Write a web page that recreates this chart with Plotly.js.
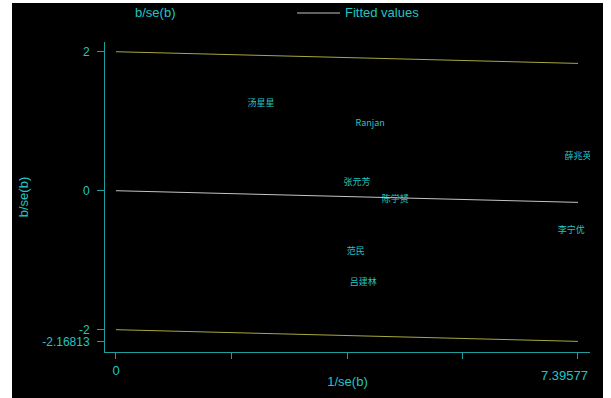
<!DOCTYPE html>
<html>
<head>
<meta charset="utf-8">
<script src="https://cdn.plot.ly/plotly-3.0.1.min.js"></script>
<style>
html,body{margin:0;padding:0;background:#ffffff;width:611px;height:398px;overflow:hidden;}
#chart{position:absolute;left:12px;top:3px;width:591px;height:395px;}
</style>
</head>
<body>
<div id="chart"></div>
<script>
// Study labels and Galbraith coordinates
const studyNames = ["汤星星", "Ranjan", "薛兆英", "张元芳", "陈学赟", "李宁优", "范民", "吕建林"];
const invSE = [2.32, 4.07, 7.39577, 3.86, 4.47, 7.29, 3.84, 3.96];   // 1/se(b)
const zScore = [1.25, 0.97, 0.49, 0.11, -0.13, -0.58, -0.88, -1.33]; // b/se(b)

// Fitted line and +/-2 bounds
const lineX = [0, 7.39577];
const fitted = [0, -0.16813];
const upperBound = [2, 1.83187];
const lowerBound = [-2, -2.16813];

// Tick labels
const xTickVals = [0, 1.849, 3.698, 5.547, 7.39577];
const xTickText = ["0", "", "", "", ""];
const xEndLabel = "7.39577";
const yTickVals = [2, 0, -2, -2.16813];
const yTickText = ["2", "0", "-2", "-2.16813"];

const cyan = "#22c4c4";
const axisCol = "#1e9e9e";
const fontFam = "Liberation Sans, Arial, Noto Sans CJK SC, sans-serif";
const narrowFam = "Liberation Sans Narrow, Arial Narrow, Liberation Sans, sans-serif";

const traces = [
  {x: invSE, y: zScore, text: studyNames, mode: "text", type: "scatter",
   textposition: "middle center", textfont: {color: cyan, size: 9, family: "Noto Sans CJK SC, Liberation Sans, sans-serif"},
   showlegend: false, hoverinfo: "none"},
  {x: lineX, y: upperBound, mode: "lines", type: "scatter", line: {color: "#a8a840", width: 1}, showlegend: false},
  {x: lineX, y: fitted, mode: "lines", type: "scatter", line: {color: "#c4c4c4", width: 1}, showlegend: false},
  {x: lineX, y: lowerBound, mode: "lines", type: "scatter", line: {color: "#a8a840", width: 1}, showlegend: false}
];

const layout = {
  width: 591, height: 395,
  paper_bgcolor: "#000000", plot_bgcolor: "#000000",
  margin: {l: 93, r: 13, t: 39, b: 46},
  showlegend: false,
  font: {family: fontFam, color: cyan, size: 13},
  xaxis: {
    range: [-0.176, 7.588], showgrid: false, zeroline: false,
    showline: true, linecolor: axisCol, linewidth: 1,
    ticks: "outside", ticklen: 6, tickcolor: axisCol, tickwidth: 1,
    tickmode: "array", tickvals: xTickVals, ticktext: xTickText,
    tickfont: {color: cyan, size: 13, family: fontFam},
    title: {text: "1/se(b)", font: {color: cyan, size: 13, family: fontFam}, standoff: 0}
  },
  yaxis: {
    range: [-2.321, 2.140], showgrid: false, zeroline: false,
    showline: true, linecolor: axisCol, linewidth: 1,
    ticks: "outside", ticklen: 7, tickcolor: axisCol, tickwidth: 1,
    ticklabelstandoff: 5,
    tickmode: "array", tickvals: yTickVals, ticktext: yTickText,
    tickfont: {color: cyan, size: 12, family: fontFam},
    title: {text: "b/se(b)", font: {color: cyan, size: 13, family: fontFam}, standoff: 10}
  },
  annotations: [
    {xref: "paper", yref: "paper", x: (155 - 105) / 485, y: (352 - 12) / 310, text: "b/se(b)",
     showarrow: false, xanchor: "center", yanchor: "middle", font: {color: cyan, size: 13, family: fontFam}},
    {xref: "paper", yref: "paper", x: (343 - 105) / 485, y: (352 - 12) / 310, text: "Fitted values",
     showarrow: false, xanchor: "left", yanchor: "middle", font: {color: cyan, size: 13, family: narrowFam}},
    {xref: "x", yref: "paper", x: xTickVals[4], y: -0.045, text: xEndLabel,
     showarrow: false, xanchor: "right", xshift: 12, yanchor: "top", font: {color: cyan, size: 13, family: fontFam}}
  ],
  shapes: [
    {type: "line", xref: "paper", yref: "paper", x0: (297 - 105) / 485, x1: (340 - 105) / 485,
     y0: (352 - 13) / 310, y1: (352 - 13) / 310, line: {color: "#c4c4c4", width: 1}}
  ]
};

Plotly.newPlot("chart", traces, layout, {displayModeBar: false, staticPlot: true});
</script>
</body>
</html>
